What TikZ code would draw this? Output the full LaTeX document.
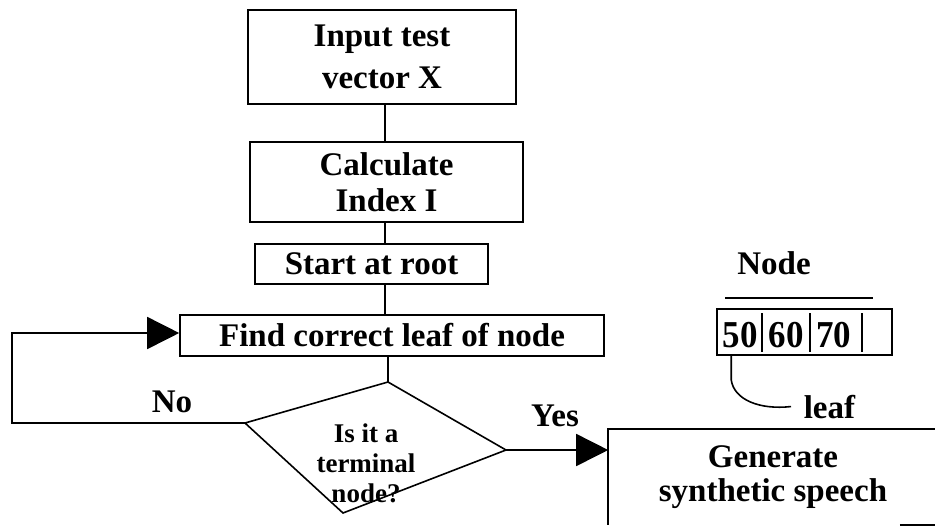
\documentclass[tikz,border=0pt]{standalone}
\usepackage{fontspec}
\setmainfont{Liberation Serif}
\usepackage{tikz}
\usetikzlibrary{arrows.meta}

\tikzset{
  box/.style={draw, rectangle, inner sep=0pt, align=center, font=\fontsize{16.5}{21}\selectfont\bfseries},
  txt/.style={inner sep=0pt, align=center, font=\fontsize{16.5}{21}\selectfont\bfseries},
  small/.style={inner sep=0pt, align=center, font=\fontsize{13.5}{15}\selectfont\bfseries},
  digit/.style={inner sep=0pt, font=\fontsize{19}{21}\selectfont\bfseries},
  arr/.style={-{Triangle[length=16pt,width=16pt]}},
}

\begin{document}
\begin{tikzpicture}[x=0.5pt,y=-0.5pt,line width=0.8pt]
\useasboundingbox (0,0) rectangle (935,525);
% flow chart boxes
\node[box, minimum width=134pt, minimum height=47pt] (input) at (382,57) {Input test\\vector X};
\node[box, minimum width=136.5pt, minimum height=40pt] (calc) at (386.5,182) {Calculate\\[-3pt]Index I};
\node[box, minimum width=116.5pt, minimum height=20pt] (root) at (371.5,264) {Start at root};
\node[box, minimum width=212pt, minimum height=20.5pt] (find) at (392,335.5) {Find correct leaf of node};
\node[txt, minimum width=164pt, minimum height=47pt] (gen) at (773,477) {Generate\\[-4pt]synthetic speech};
\draw (gen.south west) |- (gen.north east);
\draw ([xshift=-19pt]gen.south east) -- (gen.south east);
% decision
\coordinate (dtop) at (388,382);
\coordinate (dright) at (506,450);
\coordinate (dbot) at (343,513);
\coordinate (dleft) at (245,423);
\draw (dtop) -- (dright) -- (dbot) -- (dleft) -- cycle;
\node[small] (dec) at (366,463) {Is it a\\terminal\\node?};
\node[txt] (no) at (172,402) {No};
\node[txt] (yes) at (555,416) {Yes};
% links
\coordinate (spine) at (385,0);
\coordinate (loop) at (12,333);
\draw (input.south -| spine) -- (calc.north -| spine);
\draw (calc.south -| spine) -- (root.north -| spine);
\draw (root.south -| spine) -- (find.north -| spine);
\draw (find.south -| dtop) -- (dtop);
\draw[arr] (dleft) -| (loop) -- (loop -| find.west);
\draw[arr] (dright) -- (dright -| gen.west);
% node layout sketch
\node[txt] (nodelbl) at (774,263) {Node};
\draw (725,298) -- (873,298);
\node[draw, inner sep=0pt, minimum width=87.5pt, minimum height=23pt] (array) at (804.5,332) {};
\foreach \x in {762,810,862}
  \draw (\x,313) -- (\x,352);
\foreach \v/\x in {50/740,60/786,70/833.5}
  \node[digit, anchor=base] (n\v) at (\x,347) {\scalebox{0.92}[1]{\v}};
\node[txt, anchor=base west] (leaf) at (803,418) {leaf};
\draw ([xshift=7.5pt]array.south west) -- ++(0,24) .. controls (734,400) and (760,410) .. ([xshift=-6pt]leaf.west);
\end{tikzpicture}
\end{document}
